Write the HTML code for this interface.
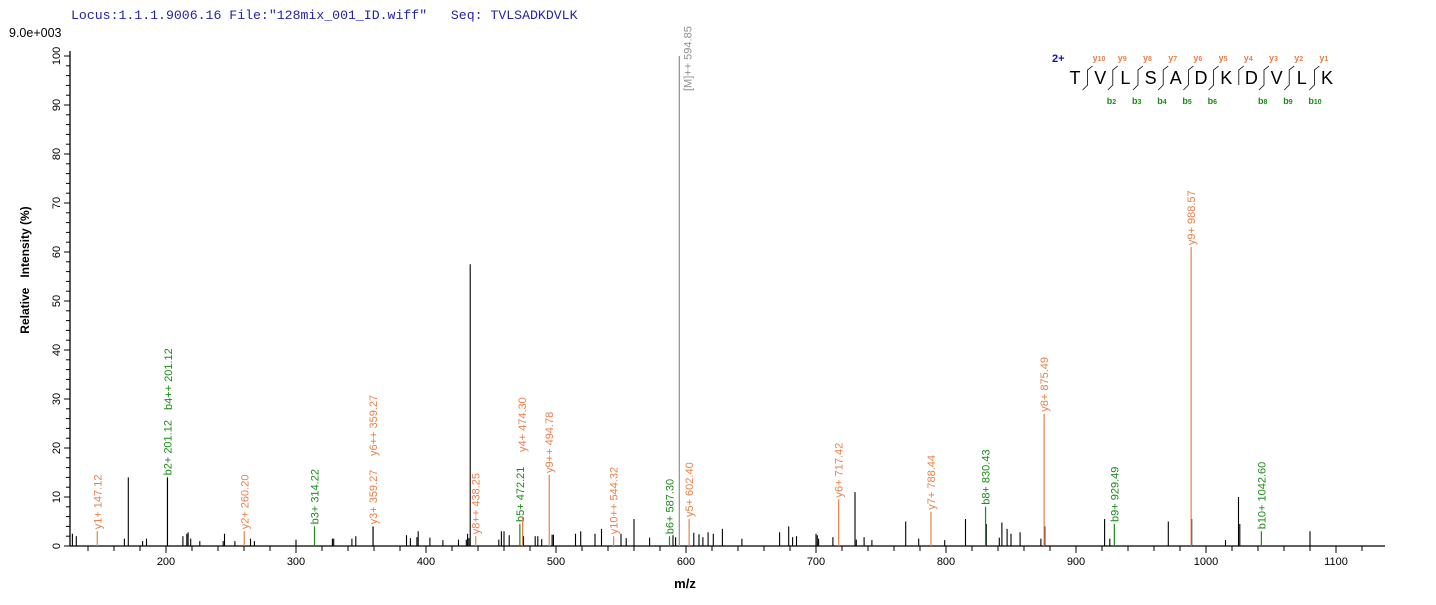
<!DOCTYPE html>
<html><head><meta charset="utf-8"><style>
html,body{margin:0;padding:0;background:#fff;}
svg{display:block;font-family:"Liberation Sans",Arial,sans-serif;}
</style></head><body>
<svg id="s" width="1436" height="605" viewBox="0 0 1436 605" xmlns="http://www.w3.org/2000/svg">
<text x="71" y="19" font-family="Liberation Mono,monospace" font-size="13.2" fill="#2424a4" style="white-space:pre">Locus:1.1.1.9006.16 File:"128mix_001_ID.wiff"   Seq: TVLSADKDVLK</text>
<text x="9" y="37" font-size="12.5" fill="#000">9.0e+003</text>
<text transform="translate(29,270) rotate(-90)" text-anchor="middle" font-size="12" font-weight="bold" style="white-space:pre">Relative   Intensity (%)</text>
<text x="685" y="588" text-anchor="middle" font-size="13" font-weight="bold">m/z</text>
<g id="g"></g>
</svg>
<script>
var g=document.getElementById('g'),h='';
function X(m){return 166+(m-200)*1.3;}
function Y(p){return 546-p*4.9;}
h+='<line x1="70" y1="546" x2="1385" y2="546" stroke="#000" stroke-width="1.3"/>';
h+='<line x1="70" y1="546" x2="70" y2="51" stroke="#000" stroke-width="1.3"/>';
for(var m=140;m<=1140;m+=20){var x=X(m);if(x<72||x>1384)continue;var maj=m%100==0;
h+='<line x1="'+x+'" y1="546" x2="'+x+'" y2="'+(maj?553:551)+'" stroke="#000"/>';
if(maj)h+='<text x="'+x+'" y="565" text-anchor="middle" font-size="11">'+m+'</text>';}
for(var p=0;p<=100;p+=2){var y=Y(p),maj=p%10==0;
h+='<line x1="'+(maj?64:66)+'" y1="'+y+'" x2="70" y2="'+y+'" stroke="#000"/>';
if(maj)h+='<text transform="translate(60,'+y+') rotate(-90)" text-anchor="middle" font-size="11">'+p+'</text>';}
var blk=[[128,2.5],[131,2],[168,1.5],[171,14],[182,1],[185,1.5],[213,2],[216,2.5],[217,2.8],[219,1.5],[226,1],[244,1],[245,2.5],[253,1],[265,1.5],[268,1],[300,1.3],[328,1.5],[329,1.5],[343,1.5],[346,2],[385,2.2],[388,1.6],[393,1.8],[394,3],[403,1.7],[413,1.2],[425,1.3],[431,1.3],[432,2.5],[433,1.6],[434,57.5],[456,1.3],[458,3],[460,3],[464,2.2],[475,2],[484,2],[486,2],[489,1.4],[497,2.3],[498,2.3],[515,2.5],[519,3],[530,2.5],[535,3.5],[550,2.5],[554,1.6],[560,5.5],[572,1.7],[590,2.2],[592,1.8],[606,2.7],[610,2.4],[613,1.8],[617,2.8],[621,2.5],[628,3.5],[643,1.5],[672,2.8],[679,4],[682,1.8],[685,2],[700,2.5],[701,2.2],[702,1.5],[713,1.8],[730,11],[731,1.3],[737,1.8],[743,1.2],[769,5],[779,1.5],[799,1.2],[815,5.5],[831,4.5],[841,1.7],[843,4.8],[847,3.5],[850,2.5],[857,2.8],[873,1.5],[876,4],[922,5.5],[926,1.5],[971,5],[989,5.5],[1015,1.2],[1025,10],[1026,4.5],[1080,3]];
blk.forEach(function(a){var x=X(a[0]);h+='<line x1="'+x+'" y1="546" x2="'+x+'" y2="'+Y(a[1])+'" stroke="#000" stroke-width="1.1"/>';});
var O="#e8804a",G="#1a8a1a",R="#909090";
var ions=[[147.12,3,O,'y1+ 147.12'],[201.12,14,"#000",'b2+ 201.12',G],[260.20,3,O,'y2+ 260.20'],[314.22,4,G,'b3+ 314.22'],[359.27,4,"#000",'y3+ 359.27',O],[438.25,2,O,'y8++ 438.25'],[472.21,4.5,G,'b5+ 472.21'],[474.30,6,O,null],[494.78,14.5,O,'y9++ 494.78'],[544.32,2,O,'y10++ 544.32'],[587.30,2,G,'b6+ 587.30'],[594.85,100,R,'[M]++ 594.85'],[602.40,5.5,O,'y5+ 602.40'],[717.42,9.5,O,'y6+ 717.42'],[788.44,7,O,'y7+ 788.44'],[830.43,8,G,'b8+ 830.43'],[875.49,27,O,'y8+ 875.49'],[929.49,4.5,G,'b9+ 929.49'],[988.57,61,O,'y9+ 988.57'],[1042.60,3,G,'b10+ 1042.60']];
ions.forEach(function(a){var x=X(a[0]),y=Y(a[1]);h+='<line x1="'+x+'" y1="546" x2="'+x+'" y2="'+y+'" stroke="'+a[2]+'" stroke-width="1.2"/>';
if(a[3]){var c=a[4]||a[2];if(a[2]==R){h+='<text transform="translate('+(x+12)+',91) rotate(-90)" font-size="11" fill="'+c+'">'+a[3]+'</text>';}
else h+='<text transform="translate('+(x+4)+','+(y-2)+') rotate(-90)" font-size="11" fill="'+c+'">'+a[3]+'</text>';}});
h+='<text transform="translate(172,410) rotate(-90)" font-size="11" fill="'+G+'">b4++ 201.12</text>';
h+='<text transform="translate(377,456) rotate(-90)" font-size="11" fill="'+O+'">y6++ 359.27</text>';
h+='<text transform="translate(526,452) rotate(-90)" font-size="11" fill="'+O+'">y4+ 474.30</text>';
var seq="TVLSADKDVLK";h+='<text x="1052" y="62" font-size="11" font-weight="bold" fill="#1010c0">2+</text>';
for(var i=0;i<11;i++){var x=1075+i*25.2;h+='<text x="'+x+'" y="84" text-anchor="middle" font-size="18">'+seq[i]+'</text>';
if(i>0){var d=x-12.6;
if(i!=7)h+='<polyline points="'+(d+5)+',66 '+d+',70 '+d+',85 '+(d-5)+',90" fill="none" stroke="#000" stroke-width="0.8"/>';
else h+='<polyline points="'+(d+5)+',66 '+d+',70 '+d+',85" fill="none" stroke="#000" stroke-width="0.8"/>';
h+='<text x="'+(d+5)+'" y="61" font-size="9" font-weight="bold" fill="'+O+'">y<tspan font-size="7">'+(11-i)+'</tspan></text>';
if(i>=2&&i!=7)h+='<text x="'+(d-6)+'" y="104" font-size="9" font-weight="bold" fill="'+G+'">b<tspan font-size="7">'+i+'</tspan></text>';}}
g.innerHTML=h;
</script>
</body></html>
